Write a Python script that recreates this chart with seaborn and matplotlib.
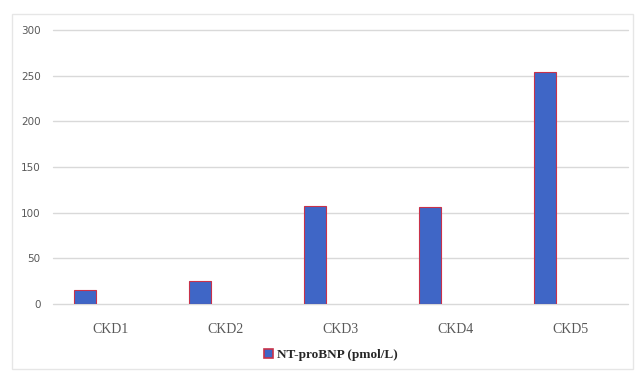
import matplotlib
matplotlib.use("Agg")
import matplotlib.pyplot as plt
import seaborn as sns
import pandas as pd
import numpy as np
from matplotlib.patches import Rectangle, Patch

categories = ["CKD1", "CKD2", "CKD3", "CKD4", "CKD5"]
values = [15, 25, 107, 106, 254]
series_name = "NT-proBNP (pmol/L)"
yticks = [0, 50, 100, 150, 200, 250, 300]

# Excel-style cluster with empty slots next to the single series
df = pd.DataFrame({
    "cat": categories * 3,
    "val": values + [np.nan] * 5 + [np.nan] * 5,
    "series": [series_name] * 5 + ["_b"] * 5 + ["_c"] * 5,
})

sns.set_theme(style="white")
fig = plt.figure(figsize=(6.42, 3.73), dpi=100)
ax = fig.add_axes([0.0826, 0.185, 0.8954, 0.7346])

bar_color = "#3F66C6"
edge_color = "#C8324A"
sns.barplot(data=df, x="cat", y="val", hue="series", order=categories,
            hue_order=[series_name, "_b", "_c"],
            palette=[bar_color, bar_color, bar_color], saturation=1,
            width=0.66, gap=0.15, ax=ax, legend=False,
            edgecolor=edge_color, linewidth=0.8, zorder=3)

ax.set_ylim(0, 300)
ax.set_xlim(-0.5, 4.5)
ax.set_yticks(yticks)
ax.yaxis.grid(True, color="#d9d9d9", linewidth=1.0, zorder=0)
for gl in ax.get_ygridlines():
    gl.set_clip_on(False)
ax.set_axisbelow(True)
for s in ax.spines.values():
    s.set_visible(False)
ax.set_xlabel("")
ax.set_ylabel("")
ax.tick_params(axis="y", length=0, pad=9, labelsize=7.5, labelcolor="#595959")
ax.tick_params(axis="x", length=0, pad=14, labelsize=10, labelcolor="#595959")
for lbl in ax.get_yticklabels():
    lbl.set_family("DejaVu Sans")
for lbl in ax.get_xticklabels():
    lbl.set_family("Liberation Serif")

handle = Patch(facecolor=bar_color, edgecolor=edge_color, linewidth=1.2)
fig.legend([handle], [series_name], loc="center", bbox_to_anchor=(0.515, 0.048),
           frameon=False, handlelength=0.7, handleheight=0.7, handletextpad=0.3,
           prop={"family": "Liberation Serif", "weight": "bold", "size": 9.5})

fig.add_artist(Rectangle((0.019, 0.01), 0.967, 0.953, transform=fig.transFigure,
                         fill=False, edgecolor="#e6e6e6", linewidth=1.0))

fig.savefig("out.png", dpi=100)
